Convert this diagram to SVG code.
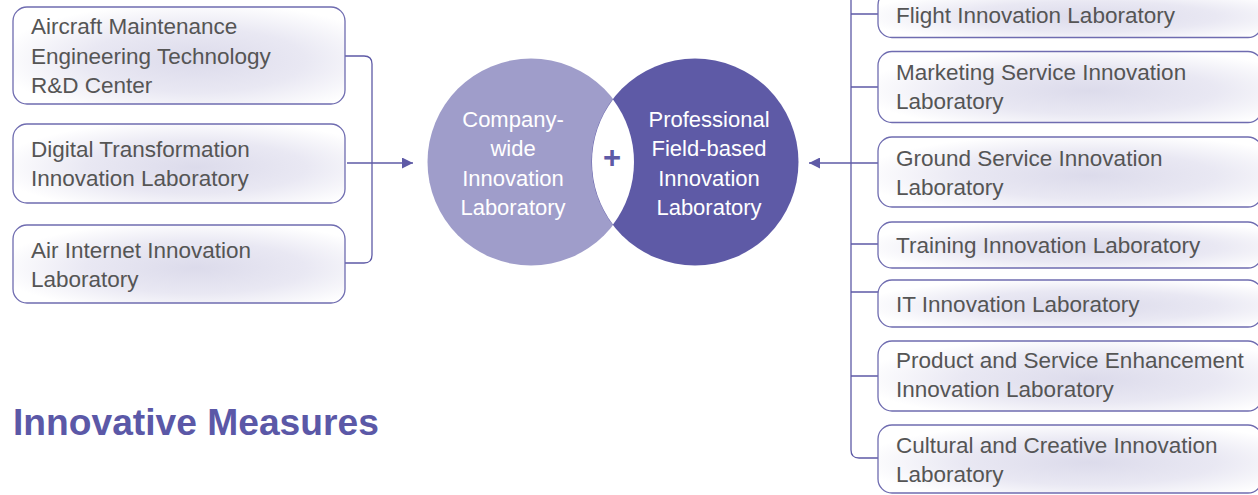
<svg xmlns="http://www.w3.org/2000/svg" width="1258" height="495" viewBox="0 0 1258 495">
<defs>
<radialGradient id="glow" cx="0.55" cy="0.55" r="0.6">
<stop offset="0" stop-color="#dcdbeb"/>
<stop offset="0.55" stop-color="#e9e8f3"/>
<stop offset="1" stop-color="#ffffff"/>
</radialGradient>
<marker id="arr" viewBox="0 0 10 10" refX="10" refY="5" markerWidth="15" markerHeight="11" markerUnits="userSpaceOnUse" orient="auto">
<path d="M0,0 L10,5 L0,10 Z" fill="#5e5aa6"/>
</marker>
<style>
.box{fill:url(#glow);stroke:#6f6cb0;stroke-width:1.3}
.t{font-family:"Liberation Sans",Arial,sans-serif;font-size:22.5px;fill:#555555}
.c{font-family:"Liberation Sans",Arial,sans-serif;font-size:22px;fill:#ffffff;text-anchor:middle}
.ln{fill:none;stroke:#5e5aa6;stroke-width:1.3}
</style>
</defs>
<rect width="1258" height="495" fill="#ffffff"/>

<g id="connectors">
<path class="ln" d="M345,56 H364 Q372,56 372,64 V255 Q372,263 364,263 H345"/>
<path class="ln" d="M347,163 H413" marker-end="url(#arr)"/>
<path class="ln" d="M851,-5 V450 Q851,458 859,458 H878"/>
<path class="ln" d="M851,14 H878 M851,87 H878 M851,244 H878 M851,292 H878 M851,376 H878"/>
<path class="ln" d="M878,163 H809" marker-end="url(#arr)"/>
</g>

<g id="n-aircraft"><rect class="box" x="13" y="7" width="332" height="97" rx="14"/>
<text class="t" x="31" y="34">Aircraft Maintenance</text><text class="t" x="31" y="63.5">Engineering Technology</text><text class="t" x="31" y="93">R&amp;D Center</text></g>
<g id="n-digital"><rect class="box" x="13" y="124" width="332" height="79" rx="14"/>
<text class="t" x="31" y="157">Digital Transformation</text><text class="t" x="31" y="186">Innovation Laboratory</text></g>
<g id="n-airnet"><rect class="box" x="13" y="225" width="332" height="78" rx="14"/>
<text class="t" x="31" y="258">Air Internet Innovation</text><text class="t" x="31" y="287">Laboratory</text></g>

<g id="n-company">
<circle cx="531" cy="162" r="103.5" fill="#9f9dca"/>
<text class="c" x="513" y="127">Company-</text><text class="c" x="513" y="156">wide</text><text class="c" x="513" y="185.5">Innovation</text><text class="c" x="513" y="215">Laboratory</text>
</g>
<g id="n-professional">
<circle cx="695" cy="162" r="103.5" fill="#5e5aa6"/>
<path d="M613,99.5 A103.5,103.5 0 0 1 613,224.5 A103.5,103.5 0 0 1 613,99.5 Z" fill="#ffffff"/>
<text class="c" x="709" y="127">Professional</text><text class="c" x="709" y="156">Field-based</text><text class="c" x="709" y="185.5">Innovation</text><text class="c" x="709" y="215">Laboratory</text>
</g>
<text x="612" y="168" font-family="Liberation Sans,Arial,sans-serif" font-size="31" font-weight="bold" fill="#5e5aa6" text-anchor="middle">+</text>

<g id="n-flight"><rect class="box" x="878" y="-9" width="384" height="46.5" rx="14"/>
<text class="t" x="896" y="23">Flight Innovation Laboratory</text></g>
<g id="n-marketing"><rect class="box" x="878" y="51.5" width="384" height="71" rx="14"/>
<text class="t" x="896" y="80">Marketing Service Innovation</text><text class="t" x="896" y="109">Laboratory</text></g>
<g id="n-ground"><rect class="box" x="878" y="137" width="384" height="70" rx="14"/>
<text class="t" x="896" y="166">Ground Service Innovation</text><text class="t" x="896" y="195">Laboratory</text></g>
<g id="n-training"><rect class="box" x="878" y="222" width="384" height="46" rx="14"/>
<text class="t" x="896" y="253">Training Innovation Laboratory</text></g>
<g id="n-it"><rect class="box" x="878" y="280" width="384" height="47" rx="14"/>
<text class="t" x="896" y="312">IT Innovation Laboratory</text></g>
<g id="n-product"><rect class="box" x="878" y="341" width="384" height="70" rx="14"/>
<text class="t" x="896" y="368">Product and Service Enhancement</text><text class="t" x="896" y="397">Innovation Laboratory</text></g>
<g id="n-cultural"><rect class="box" x="878" y="425" width="384" height="68" rx="14"/>
<text class="t" x="896" y="453">Cultural and Creative Innovation</text><text class="t" x="896" y="482">Laboratory</text></g>

<text id="title" x="13" y="435" font-family="Liberation Sans,Arial,sans-serif" font-size="37.2" font-weight="bold" fill="#5b58a7">Innovative Measures</text>
</svg>
